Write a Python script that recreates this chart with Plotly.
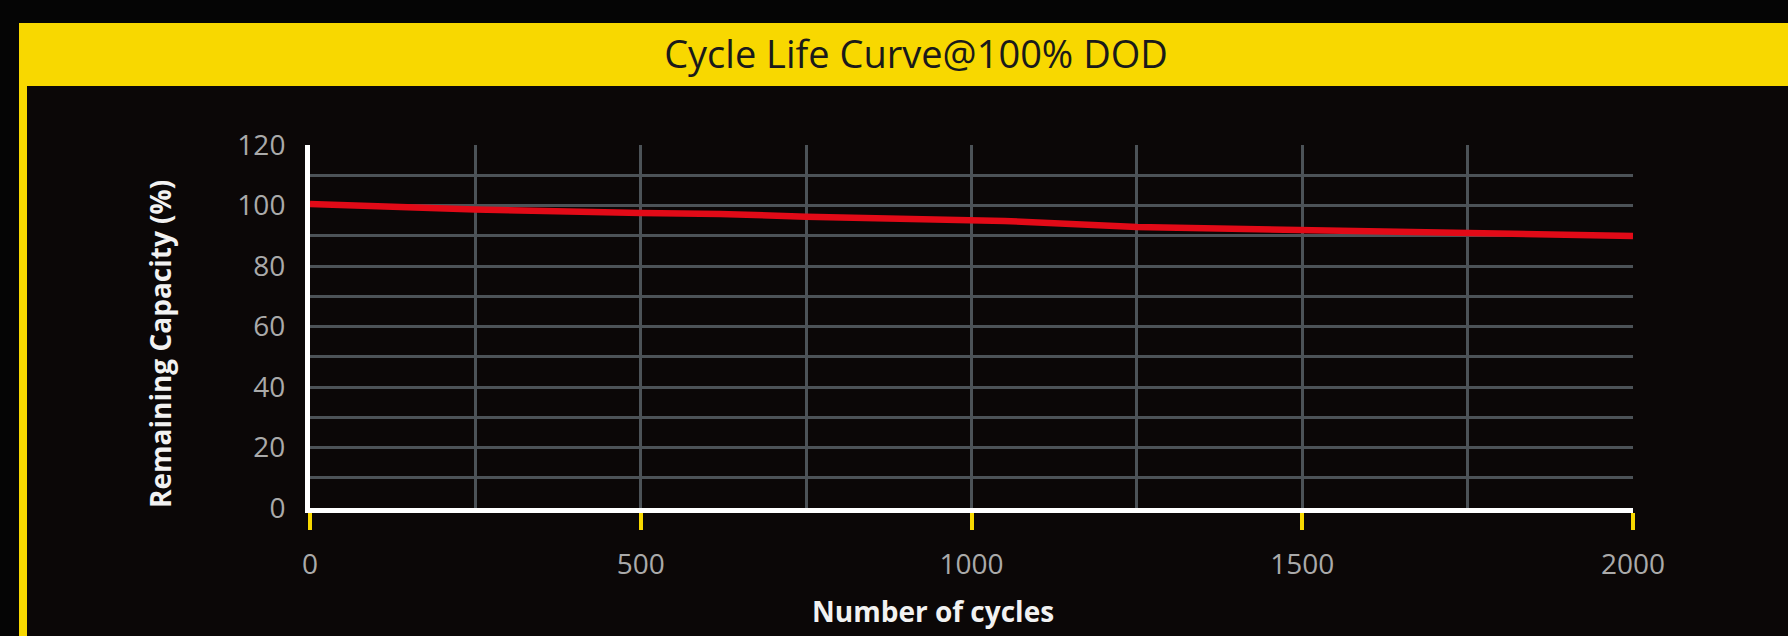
import plotly.graph_objects as go

# ---- data ----
cycles = [0, 250, 500, 620, 750, 1000, 1050, 1250, 1500, 1750, 2000]
capacity = [100.5, 98.7, 97.5, 97.2, 96.3, 94.9, 94.9, 92.9, 91.9, 90.9, 89.9]

x_ticks = [0, 500, 1000, 1500, 2000]
y_ticks = [0, 20, 40, 60, 80, 100, 120]

title_text = "Cycle Life Curve@100% DOD"
x_title = "Number of cycles"
y_title = "Remaining Capacity (%)"

# ---- layout geometry (pixels) ----
W, H = 1788, 636
L, R, T, B = 310, 1633, 145, 508
pw, ph = R - L, B - T


def px(xp):
    return (xp - L) / pw


def py(yp):
    return (B - yp) / ph


YELLOW = "#f8d800"
BG = "#0b0707"
GRID = "#4c5257"
FONT = "Open Sans"

fig = go.Figure()
fig.add_trace(go.Scatter(
    x=cycles, y=capacity, mode="lines",
    line=dict(color="#e20a17", width=6.5),
    hoverinfo="x+y", showlegend=False,
))

shapes = [
    # darker outer frame top / left
    dict(type="rect", xref="paper", yref="paper", x0=px(-5), x1=px(W + 5), y0=py(23), y1=py(-5),
         fillcolor="#050505", line_width=0, layer="below"),
    dict(type="rect", xref="paper", yref="paper", x0=px(-5), x1=px(19), y0=py(H + 5), y1=py(-5),
         fillcolor="#050505", line_width=0, layer="below"),
    # yellow banner
    dict(type="rect", xref="paper", yref="paper", x0=px(19), x1=px(W + 5), y0=py(86), y1=py(23),
         fillcolor=YELLOW, line_width=0, layer="below"),
    # yellow left strip
    dict(type="rect", xref="paper", yref="paper", x0=px(19), x1=px(27), y0=py(H + 5), y1=py(86),
         fillcolor=YELLOW, line_width=0, layer="below"),
]

annotations = [
    dict(text=x_title, xref="paper", yref="paper", x=px(933), y=py(611),
         xanchor="center", yanchor="middle", showarrow=False,
         font=dict(family=FONT, size=28, color="#f2f2f2", weight="bold")),
    dict(text=y_title, xref="paper", yref="paper", x=px(160), y=py(344),
         xanchor="center", yanchor="middle", showarrow=False, textangle=-90,
         font=dict(family=FONT, size=28, color="#f2f2f2", weight="bold")),
]

fig.update_layout(
    width=W, height=H,
    margin=dict(l=L, r=W - R, t=T, b=H - B, pad=0),
    paper_bgcolor=BG, plot_bgcolor=BG,
    title=dict(text=title_text, x=916 / W, y=1 - 55 / H, xref="container", yref="container",
               xanchor="center", yanchor="middle",
               font=dict(family=FONT, size=38, color="#1a1a1a")),
    shapes=shapes, annotations=annotations,
    xaxis=dict(
        range=[0, 2000], tickvals=x_ticks, ticktext=[str(v) for v in x_ticks],
        showgrid=True, gridcolor=GRID, gridwidth=2.5,
        minor=dict(dtick=250, tick0=0, showgrid=True, gridcolor=GRID, gridwidth=2.5, ticks=""),
        showline=True, linecolor="#ffffff", linewidth=5,
        ticks="outside", ticklen=17, tickwidth=4, tickcolor=YELLOW,
        ticklabelstandoff=10,
        tickfont=dict(family=FONT, size=28, color="#aaaaaa"),
        zeroline=False,
    ),
    yaxis=dict(
        range=[0, 120], tickvals=y_ticks, ticktext=[str(v) for v in y_ticks],
        showgrid=True, gridcolor=GRID, gridwidth=2.5,
        minor=dict(dtick=10, tick0=0, showgrid=True, gridcolor=GRID, gridwidth=2.5, ticks=""),
        showline=True, linecolor="#ffffff", linewidth=5,
        ticks="", ticklabelstandoff=14,
        tickfont=dict(family=FONT, size=28, color="#aaaaaa"),
        zeroline=False,
    ),
)

fig.write_html(
    "out.html",
    config={"displayModeBar": False},
    post_script="document.body.style.margin='0';document.body.style.background='#050505';",
)
